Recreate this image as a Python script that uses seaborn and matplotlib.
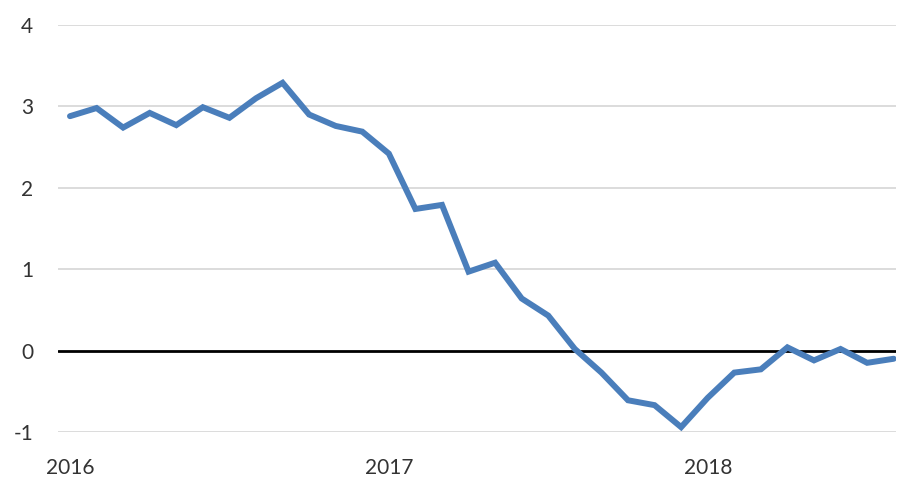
import pandas as pd
import matplotlib
matplotlib.use("Agg")
import matplotlib.pyplot as plt
import seaborn as sns

# monthly series, Jan 2016 - Aug 2018
months = pd.date_range("2016-01-01", periods=32, freq="MS")
values = [2.88, 2.98, 2.74, 2.92, 2.77, 2.99, 2.86, 3.10, 3.29, 2.90, 2.76, 2.69,
          2.42, 1.74, 1.79, 0.97, 1.08, 0.64, 0.43, 0.02, -0.27, -0.61, -0.67, -0.94,
          -0.58, -0.27, -0.23, 0.04, -0.12, 0.02, -0.15, -0.10]
year_labels = ["2016", "2017", "2018"]
year_ticks = [0, 12, 24]
y_ticks = [-1, 0, 1, 2, 3, 4]

df = pd.DataFrame({"idx": range(len(values)), "value": values})

sns.set_style("white")
plt.rcParams['font.family'] = ['Lato', 'DejaVu Sans']

fig = plt.figure(figsize=(8.97, 4.78), dpi=100)
ax = fig.add_axes([0.0647, 0.0962, 0.934, 0.8515])

for y in y_ticks:
    if y != 0:
        ax.axhline(y, color='#d9d9d9', linewidth=1.3, zorder=1)
ax.axhline(0, color='black', linewidth=2.0, zorder=2)

sns.lineplot(data=df, x="idx", y="value", color='#4a7ebb', linewidth=4.3, ax=ax,
             zorder=3, solid_joinstyle='miter')

ax.set_xlim(-0.45, 31.08)
ax.set_ylim(-1, 4)
ax.set_yticks(y_ticks)
ax.set_yticklabels([str(y) for y in y_ticks])
ax.set_xticks(year_ticks)
ax.set_xticklabels(year_labels)
ax.set_xlabel("")
ax.set_ylabel("")
ax.tick_params(axis='y', length=0, pad=18, labelsize=15, labelcolor='#333333')
ax.tick_params(axis='x', length=0, pad=19, labelsize=15, labelcolor='#333333')
for s in ax.spines.values():
    s.set_visible(False)

fig.savefig("out.png", dpi=100)
